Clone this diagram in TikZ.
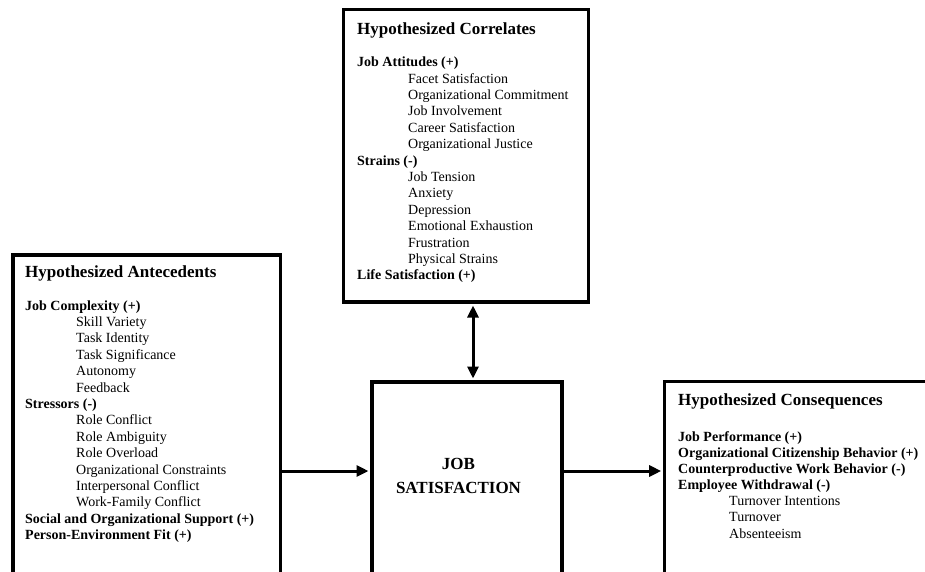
\documentclass[tikz,border=0pt]{standalone}
\usepackage{fontspec}
\setmainfont{Liberation Serif}
\usetikzlibrary{arrows.meta}
\begin{document}
\begin{tikzpicture}[x=1pt,y=-1pt,
  box/.style={draw=black,line width=3.5pt,rectangle,inner sep=0pt,fill=white},
  ttl/.style={anchor=base west,inner sep=0pt,font=\fontsize{17}{20}\selectfont\bfseries},
  body/.style={anchor=base west,inner sep=0pt,font=\fontsize{14}{16.4}\selectfont},
  bodyr/.style={anchor=base west,inner sep=0pt,font=\fontsize{14}{16.05}\selectfont},
  jst/.style={anchor=base,inner sep=0pt,font=\fontsize{17}{24}\selectfont\bfseries},
  tip/.style={Triangle[length=12pt,width=11pt]},
  arr/.style={line width=3pt,-{Triangle[length=12pt,width=11pt]},shorten >=1.75pt},
  darr/.style={line width=3pt,{Triangle[length=12pt,width=11pt]}-{Triangle[length=12pt,width=11pt]},shorten >=1.75pt,shorten <=1.75pt}]
\useasboundingbox (0,0) rectangle (925,571);
\clip (0,0) rectangle (925,571);
\fill[white] (0,0) rectangle (925,571);

% boxes
\node[box,minimum width=245pt,minimum height=292.5pt] (corr) at (466,155.75) {};
\node[box,minimum width=267.5pt,minimum height=395pt] (ante) at (146.75,452.5) {};
\node[box,minimum width=190pt,minimum height=268pt] (js) at (467,516) {};
\node[box,minimum width=315.3pt,minimum height=268.7pt] (cons) at (822.35,515.65) {};

% texts: correlates
\node[ttl] (corrT) at (357,34.3) {Hypothesized Correlates};
\node[body] (corrB) at (357,66.7) {\begin{tabular}[t]{@{}l@{}}
\textbf{Job Attitudes (+)}\\
\hspace*{51pt}Facet Satisfaction\\
\hspace*{51pt}Organizational Commitment\\
\hspace*{51pt}Job Involvement\\
\hspace*{51pt}Career Satisfaction\\
\hspace*{51pt}Organizational Justice\\
\textbf{Strains (-)}\\
\hspace*{51pt}Job Tension\\
\hspace*{51pt}Anxiety\\
\hspace*{51pt}Depression\\
\hspace*{51pt}Emotional Exhaustion\\
\hspace*{51pt}Frustration\\
\hspace*{51pt}Physical Strains\\
\textbf{Life Satisfaction (+)}
\end{tabular}};

% antecedents
\node[ttl] (anteT) at (25,277) {Hypothesized Antecedents};
\node[body] (anteB) at (25,310) {\begin{tabular}[t]{@{}l@{}}
\textbf{Job Complexity (+)}\\
\hspace*{51pt}Skill Variety\\
\hspace*{51pt}Task Identity\\
\hspace*{51pt}Task Significance\\
\hspace*{51pt}Autonomy\\
\hspace*{51pt}Feedback\\
\textbf{Stressors (-)}\\
\hspace*{51pt}Role Conflict\\
\hspace*{51pt}Role Ambiguity\\
\hspace*{51pt}Role Overload\\
\hspace*{51pt}Organizational Constraints\\
\hspace*{51pt}Interpersonal Conflict\\
\hspace*{51pt}Work-Family Conflict\\
\textbf{Social and Organizational Support (+)}\\
\textbf{Person-Environment Fit (+)}
\end{tabular}};

% consequences
\node[ttl] (consT) at (678,405) {Hypothesized Consequences};
\node[bodyr] (consB) at (678,441.7) {\begin{tabular}[t]{@{}l@{}}
\textbf{Job Performance (+)}\\
\textbf{Organizational Citizenship Behavior (+)}\\
\textbf{Counterproductive Work Behavior (-)}\\
\textbf{Employee Withdrawal (-)}\\
\hspace*{51pt}Turnover Intentions\\
\hspace*{51pt}Turnover\\
\hspace*{51pt}Absenteeism
\end{tabular}};

% job satisfaction
\node[jst] (jsT) at (458.5,469) {\begin{tabular}[t]{@{}c@{}}JOB\\SATISFACTION\end{tabular}};

% connectors
\coordinate (vx) at (473,0);
\coordinate (hy) at (0,471);
\draw[darr] (corr.south -| vx) -- (js.north -| vx);
\draw[arr] (ante.east |- hy) -- (js.west |- hy);
\draw[arr] (js.east |- hy) -- (cons.west |- hy);
\end{tikzpicture}
\end{document}
